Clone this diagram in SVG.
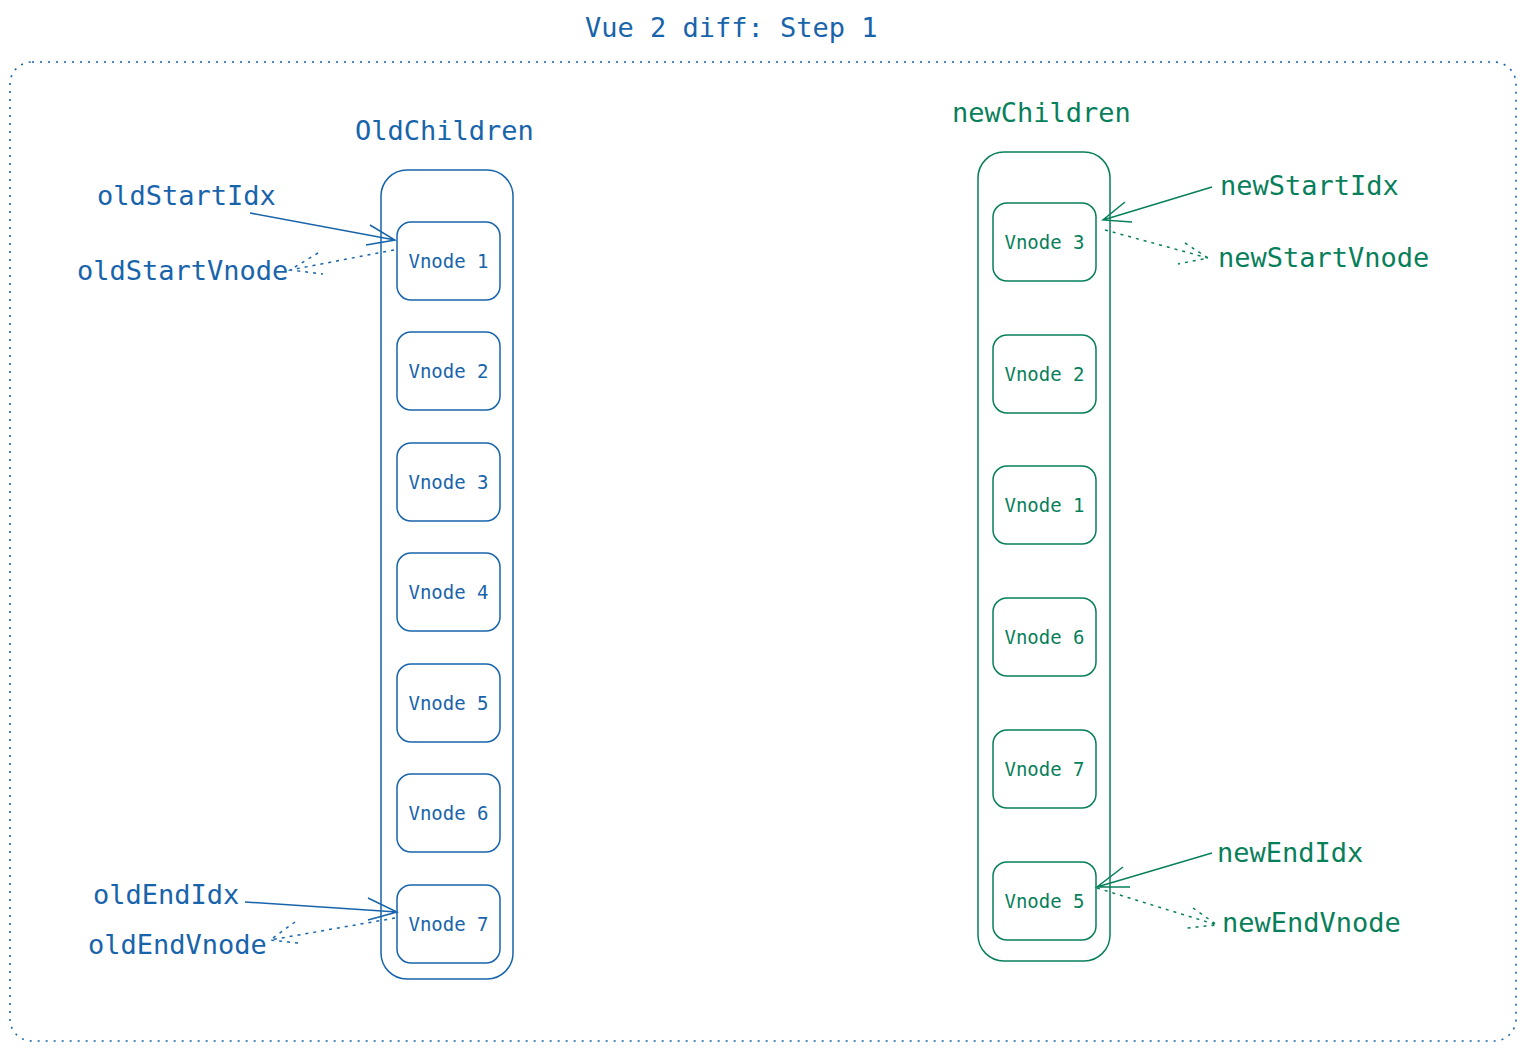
<svg xmlns="http://www.w3.org/2000/svg" width="1526" height="1051" viewBox="0 0 1526 1051">
<style>
text{font-family:"DejaVu Sans Mono","Liberation Mono",monospace;}
.t{font-size:27px;}
.lb{font-size:19px;text-anchor:middle;}
.blue{fill:#1864ab;}
.green{fill:#087f5b;}
.bs{fill:none;stroke:#1864ab;stroke-width:1.5;}
.gs{fill:none;stroke:#087f5b;stroke-width:1.5;}
.dot{stroke-dasharray:3 5;}
</style>
<rect width="1526" height="1051" fill="#ffffff"/>
<text class="t blue" x="585" y="37">Vue 2 diff: Step 1</text>
<g id="frame"><rect x="10" y="62" width="1506" height="979" rx="22" fill="none" stroke="#1864ab" stroke-width="1.6" stroke-dasharray="2 6"/></g>

<g id="oldChildren">
<text class="t blue" x="355" y="140">OldChildren</text>
<rect class="bs" x="381" y="170" width="132" height="809" rx="26"/>
</g>
<g id="old1"><rect class="bs" x="397" y="222" width="103" height="78" rx="14"/><text class="lb blue" x="448.5" y="268">Vnode 1</text></g>
<g id="old2"><rect class="bs" x="397" y="332" width="103" height="78" rx="14"/><text class="lb blue" x="448.5" y="378">Vnode 2</text></g>
<g id="old3"><rect class="bs" x="397" y="443" width="103" height="78" rx="14"/><text class="lb blue" x="448.5" y="489">Vnode 3</text></g>
<g id="old4"><rect class="bs" x="397" y="553" width="103" height="78" rx="14"/><text class="lb blue" x="448.5" y="599">Vnode 4</text></g>
<g id="old5"><rect class="bs" x="397" y="664" width="103" height="78" rx="14"/><text class="lb blue" x="448.5" y="710">Vnode 5</text></g>
<g id="old6"><rect class="bs" x="397" y="774" width="103" height="78" rx="14"/><text class="lb blue" x="448.5" y="820">Vnode 6</text></g>
<g id="old7"><rect class="bs" x="397" y="885" width="103" height="78" rx="14"/><text class="lb blue" x="448.5" y="931">Vnode 7</text></g>

<g id="newChildren">
<text class="t green" x="952" y="122">newChildren</text>
<rect class="gs" x="978" y="152" width="132" height="809" rx="26"/>
</g>
<g id="new3"><rect class="gs" x="993" y="203" width="103" height="78" rx="14"/><text class="lb green" x="1044.5" y="249">Vnode 3</text></g>
<g id="new2"><rect class="gs" x="993" y="335" width="103" height="78" rx="14"/><text class="lb green" x="1044.5" y="381">Vnode 2</text></g>
<g id="new1"><rect class="gs" x="993" y="466" width="103" height="78" rx="14"/><text class="lb green" x="1044.5" y="512">Vnode 1</text></g>
<g id="new6"><rect class="gs" x="993" y="598" width="103" height="78" rx="14"/><text class="lb green" x="1044.5" y="644">Vnode 6</text></g>
<g id="new7"><rect class="gs" x="993" y="730" width="103" height="78" rx="14"/><text class="lb green" x="1044.5" y="776">Vnode 7</text></g>
<g id="new5"><rect class="gs" x="993" y="862" width="103" height="78" rx="14"/><text class="lb green" x="1044.5" y="908">Vnode 5</text></g>

<g id="labels">
<text class="t blue" x="97" y="205">oldStartIdx</text>
<text class="t blue" x="77" y="280">oldStartVnode</text>
<text class="t blue" x="93" y="904">oldEndIdx</text>
<text class="t blue" x="88" y="954">oldEndVnode</text>
<text class="t green" x="1220" y="195">newStartIdx</text>
<text class="t green" x="1218" y="267">newStartVnode</text>
<text class="t green" x="1217" y="862">newEndIdx</text>
<text class="t green" x="1222" y="932">newEndVnode</text>
</g>

<g id="connectors">
<path class="bs" d="M250 213 L395 240 M370 225 L395 240 L366 245"/>
<path class="bs dot" d="M394 250 L290 270 M318 253 L290 270 L323 274"/>
<path class="bs" d="M245 902 L397 912 M368 898 L397 912 L368 920"/>
<path class="bs dot" d="M395 918 L270 940 M295 922 L270 940 L298 943"/>
<path class="gs" d="M1212 187 L1103 220 M1125 202 L1103 220 L1132 222"/>
<path class="gs dot" d="M1105 230 L1208 258 M1185 243 L1208 258 L1178 264"/>
<path class="gs" d="M1212 853 L1097 887 M1123 867 L1097 887 L1130 887"/>
<path class="gs dot" d="M1097 888 L1217 925 M1193 908 L1217 925 L1187 928"/>
</g>
</svg>
